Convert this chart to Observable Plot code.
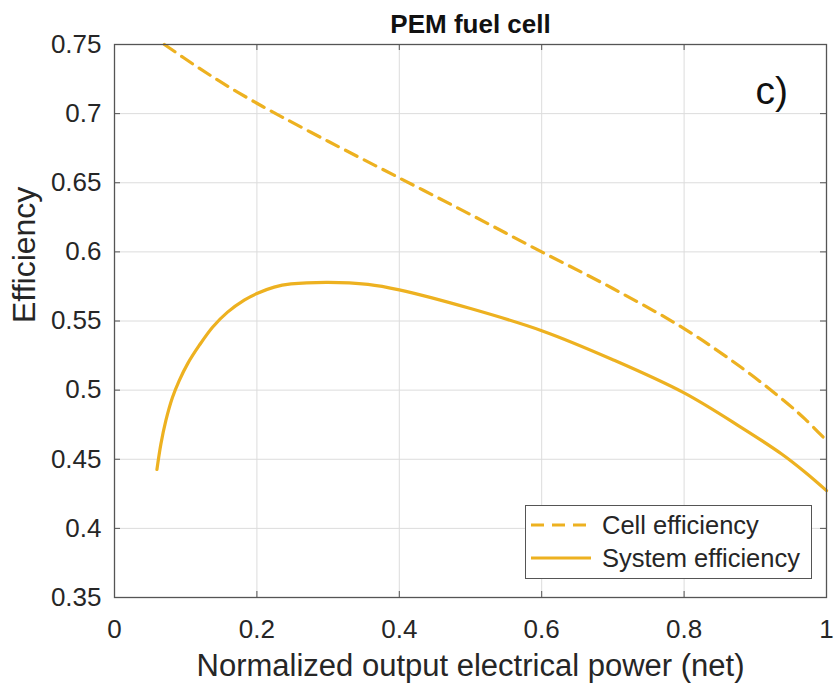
<!DOCTYPE html>
<html>
<head>
<meta charset="utf-8">
<script src="https://cdn.jsdelivr.net/npm/d3@7"></script>
<script src="https://cdn.jsdelivr.net/npm/@observablehq/plot@0.6"></script>
<style>
  html, body { margin: 0; padding: 0; background: #fff; }
  #wrap { position: relative; width: 834px; height: 686px; font-family: "Liberation Sans", Arial, sans-serif; }
  #legend { position: absolute; left: 525px; top: 505px; width: 287px; height: 74px; border: 1.3px solid #555; background: #fff; box-sizing: border-box; }
  .lrow { position: absolute; left: 0; height: 30px; display: flex; align-items: center; font-size: 25.5px; color: #262626; white-space: nowrap; }
  .lrow svg { margin-left: 5px; margin-right: 11px; }
</style>
</head>
<body>
<div id="wrap"></div>
<script>
const title = "PEM fuel cell";
const xLabel = "Normalized output electrical power (net)";
const yLabel = "Efficiency";
const panelTag = "c)";
const seriesNames = ["Cell efficiency", "System efficiency"];
const xTicks = [0, 0.2, 0.4, 0.6, 0.8, 1];
const yTicks = [0.35, 0.4, 0.45, 0.5, 0.55, 0.6, 0.65, 0.7, 0.75];

const cellX = [0.07, 0.12, 0.16, 0.2, 0.22, 0.3, 0.4, 0.5, 0.6, 0.7, 0.8, 0.88, 0.94, 0.97, 1.0];
const cellY = [0.75, 0.7325, 0.7195, 0.7075, 0.7018, 0.680, 0.6535, 0.627, 0.600, 0.5735, 0.5445, 0.5165, 0.4925, 0.479, 0.4635];

const sysX = [0.0596, 0.0652, 0.0721, 0.0815, 0.0909, 0.1026, 0.119, 0.1377, 0.1588, 0.1822, 0.2, 0.2243, 0.2478, 0.3, 0.356, 0.4, 0.5, 0.6, 0.7, 0.8, 0.88, 0.937, 0.97, 1.0];
const sysY = [0.4426, 0.4611, 0.4779, 0.4948, 0.5069, 0.519, 0.5323, 0.5455, 0.5564, 0.5651, 0.5699, 0.5745, 0.5768, 0.578, 0.5765, 0.5725, 0.559, 0.543, 0.522, 0.498, 0.4731, 0.4538, 0.4406, 0.4273];

const color = "#EDB120";
const cell = cellX.map((x, i) => ({x, y: cellY[i]}));
const sys = sysX.map((x, i) => ({x, y: sysY[i]}));

const W = 834, H = 686;
const mL = 114, mT = 44, mR = 8, mB = 89;
const innerH = H - mT - mB;
const innerW = W - mL - mR;

const chart = Plot.plot({
  width: W, height: H,
  marginLeft: mL, marginTop: mT, marginRight: mR, marginBottom: mB,
  style: {fontFamily: "Liberation Sans, Arial, sans-serif", fontSize: "26px", color: "#262626", background: "#fff"},
  x: {domain: [0, 1]},
  y: {domain: [0.35, 0.75]},
  marks: [
    Plot.gridX(xTicks, {stroke: "#dcdcdc", strokeOpacity: 1, strokeWidth: 1}),
    Plot.gridY(yTicks, {stroke: "#dcdcdc", strokeOpacity: 1, strokeWidth: 1}),
    Plot.axisX(xTicks, {tickSize: 0, tickPadding: 22, fontSize: 26, tickFormat: d => String(d), label: null}),
    Plot.axisY(yTicks, {tickSize: 0, tickPadding: 13, fontSize: 26, tickFormat: d => String(d), label: null}),
    // inward tick marks (MATLAB style)
    Plot.tickX(xTicks, {x: d => d, insetTop: innerH - 6, stroke: "#555"}),
    Plot.tickX(xTicks, {x: d => d, insetBottom: innerH - 6, stroke: "#555"}),
    Plot.tickY(yTicks, {y: d => d, insetRight: innerW - 6, stroke: "#555"}),
    Plot.tickY(yTicks, {y: d => d, insetLeft: innerW - 6, stroke: "#555"}),
    Plot.line(cell, {x: "x", y: "y", stroke: color, strokeWidth: 3.2, strokeDasharray: "13,8", curve: "catmull-rom"}),
    Plot.line(sys, {x: "x", y: "y", stroke: color, strokeWidth: 3.2, curve: "catmull-rom"}),
    Plot.frame({stroke: "#555", strokeWidth: 1.3}),
    Plot.text([title], {frameAnchor: "top", lineAnchor: "middle", dy: -20, fontSize: 26, fontWeight: "bold", fill: "#111"}),
    Plot.text([panelTag], {frameAnchor: "top-right", lineAnchor: "middle", textAnchor: "start", dx: -71, dy: 47, fontSize: 39, fill: "#111"}),
    Plot.text([xLabel], {frameAnchor: "bottom", lineAnchor: "middle", dy: 69, fontSize: 31, fill: "#262626"}),
    Plot.text([yLabel], {frameAnchor: "left", lineAnchor: "middle", dx: -90, dy: 2, rotate: -90, fontSize: 32, fill: "#262626"})
  ]
});

const wrap = document.getElementById("wrap");
wrap.appendChild(chart);

const legend = document.createElement("div");
legend.id = "legend";
const rows = [
  {name: seriesNames[0], dash: "13,8", top: 4},
  {name: seriesNames[1], dash: null, top: 37}
];
for (const r of rows) {
  const row = document.createElement("div");
  row.className = "lrow";
  row.style.top = r.top + "px";
  row.innerHTML = `<svg width="60" height="10"><line x1="0" y1="5" x2="60" y2="5" stroke="${color}" stroke-width="3.2" ${r.dash ? `stroke-dasharray="${r.dash}"` : ""}/></svg><span>${r.name}</span>`;
  legend.appendChild(row);
}
wrap.appendChild(legend);
</script>
</body>
</html>
